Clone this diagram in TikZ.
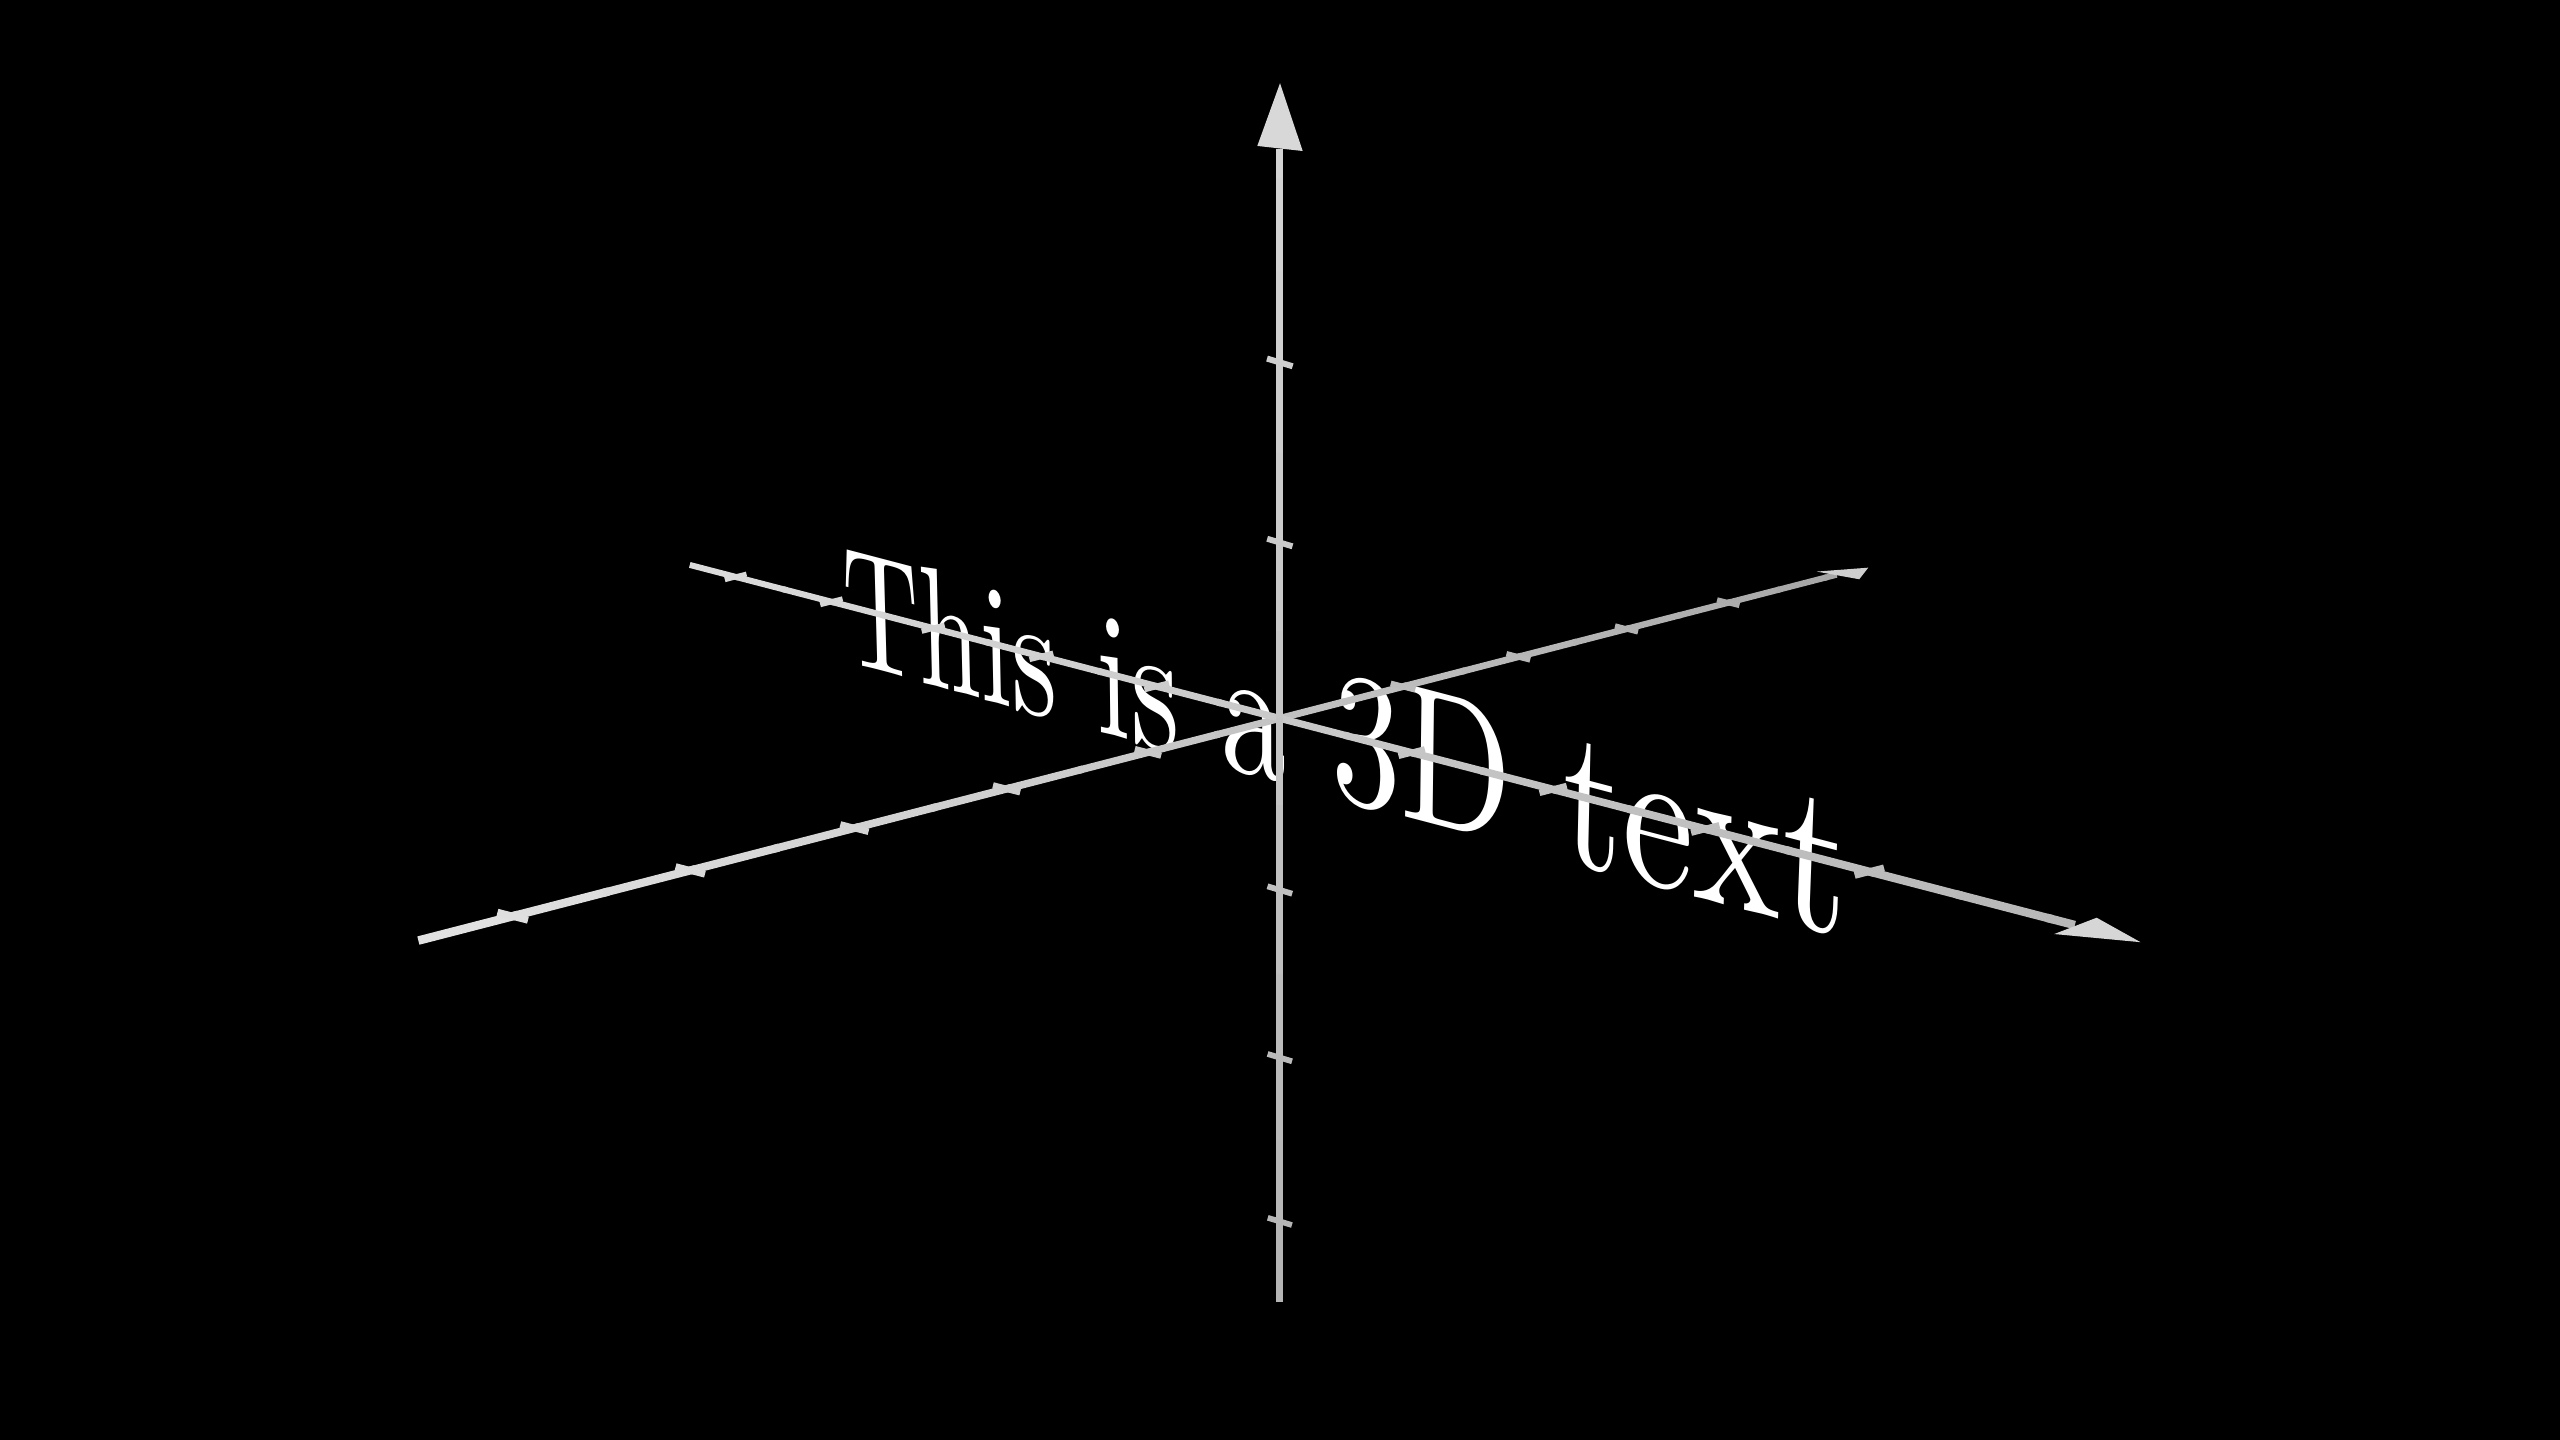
\documentclass[tikz,border=0pt]{standalone}
\begin{document}
\begin{tikzpicture}[x=1pt,y=1pt,line cap=butt]
\definecolor{xnear}{HTML}{E2E2E2}
\definecolor{xfar}{HTML}{A6A6A6}
\definecolor{yfar}{HTML}{DCDCDC}
\definecolor{ynear}{HTML}{B8B8B8}
\definecolor{ztop}{HTML}{D4D4D4}
\definecolor{zbot}{HTML}{B4B4B4}
\definecolor{tipx}{HTML}{CFCFCF}
\definecolor{tipy}{HTML}{D6D6D6}
\definecolor{tipz}{HTML}{D8D8D8}
\tikzset{letter/.style={transform shape,anchor=base west,inner sep=0pt,outer sep=0pt,text=white,font=\fontsize{10}{12}\selectfont}}
\fill[black] (-783.9,-442) rectangle (784.1,440);
\useasboundingbox (-783.9,-442) rectangle (784.1,440);
% ---- perspective text in the plane of the Y and Z axes
\foreach \qch/\quo/\qcw [count=\k] in {T/0/0.7222, h/0.7222/0.5556, i/1.2778/0.2778, s/1.5556/0.3944, i/2.2833/0.2778, s/2.5611/0.3944, a/3.2888/0.5, 3/4.1221/0.5, D/4.6221/0.7639, t/5.7193/0.3889, e/6.1082/0.4444, x/6.5526/0.5278, t/7.0804/0.3889}{
  \pgfmathsetmacro\qul{(\quo-3.7347)*1.04}
  \pgfmathsetmacro\quc{(\quo+\qcw/2-3.7347)*1.04}
  \pgfmathsetmacro\qvb{-0.37}
  \pgfmathsetmacro\qvc{-0.37+0.3*1.07}
  \pgfmathsetmacro\qwa{1-0.034*\qul-0.012*\qvb}
  \pgfmathsetmacro\qAx{78*\qul/\qwa}
  \pgfmathsetmacro\qAy{(-20.28*\qul+106.4*\qvb)/\qwa}
  \pgfmathsetmacro\qwc{1-0.034*\quc-0.012*\qvc}
  \pgfmathsetmacro\qNx{78*\quc}
  \pgfmathsetmacro\qNy{-20.28*\quc+106.4*\qvc}
  \pgfmathsetmacro\qma{(78*\qwc+0.034*\qNx)/(\qwc*\qwc)*0.104}
  \pgfmathsetmacro\qmb{(-20.28*\qwc+0.034*\qNy)/(\qwc*\qwc)*0.104}
  \pgfmathsetmacro\qmc{(0.012*\qNx)/(\qwc*\qwc)*0.107}
  \pgfmathsetmacro\qmd{(106.4*\qwc+0.012*\qNy)/(\qwc*\qwc)*0.107}
  \begin{scope}[shift={(\qAx,\qAy)},cm={\qma,\qmb,\qmc,\qmd,(0,0)}]
    \node[letter] (c\k) at (0,0) {\qch};
  \end{scope}
}
% ---- X axis (lower left to upper right)
\foreach \i in {0,...,21}{
  \pgfmathsetmacro\qta{-5.5+0.5*\i}
  \pgfmathsetmacro\qtb{min(\qta+0.53,5.136)}
  \pgfmathsetmacro\qtm{(\qta+\qtb)/2}
  \pgfmathsetmacro\qpc{(\qtm+5.5)/10.636*100}
  \pgfmathsetmacro\qlw{4.3/(1+0.034*\qtm)}
  \draw[line width=\qlw pt,color=xfar!\qpc!xnear] ({78*\qta/(1+0.034*\qta)},{20.12*\qta/(1+0.034*\qta)}) -- ({78*\qtb/(1+0.034*\qtb)},{20.12*\qtb/(1+0.034*\qtb)});
}
\foreach \tk in {-5,-4,-3,-2,-1,1,2,3,4}{
  \pgfmathsetmacro\qs{1/(1+0.034*\tk)}
  \pgfmathsetmacro\qpx{78*\tk*\qs}
  \pgfmathsetmacro\qpy{20.12*\tk*\qs}
  \pgfmathsetmacro\qpc{(\tk+5.5)/10.636*100}
  \pgfmathsetmacro\qlw{3.6*\qs}
  \draw[line width=\qlw pt,color=xfar!\qpc!xnear] ({\qpx-7.75*\qs},{\qpy+2.0*\qs}) -- ({\qpx+7.75*\qs},{\qpy-2.0*\qs});
}
\fill[tipx] (328.8,89.9) -- (360.4,92.3) -- (354.9,85.2) -- cycle;
% ---- Y axis (upper left to lower right)
\foreach \i in {0,...,21}{
  \pgfmathsetmacro\qta{-5.5+0.5*\i}
  \pgfmathsetmacro\qtb{min(\qta+0.53,5.15)}
  \pgfmathsetmacro\qtm{(\qta+\qtb)/2}
  \pgfmathsetmacro\qpc{(\qtm+5.5)/10.65*100}
  \pgfmathsetmacro\qlw{4.3/(1-0.034*\qtm)}
  \draw[line width=\qlw pt,color=ynear!\qpc!yfar] ({78*\qta/(1-0.034*\qta)},{-20.28*\qta/(1-0.034*\qta)}) -- ({78*\qtb/(1-0.034*\qtb)},{-20.28*\qtb/(1-0.034*\qtb)});
}
\foreach \tk in {-5,-4,-3,-2,-1,1,2,3,4}{
  \pgfmathsetmacro\qs{1/(1-0.034*\tk)}
  \pgfmathsetmacro\qpx{78*\tk*\qs}
  \pgfmathsetmacro\qpy{-20.28*\tk*\qs}
  \pgfmathsetmacro\qpc{(\tk+5.5)/10.65*100}
  \pgfmathsetmacro\qlw{3.6*\qs}
  \draw[line width=\qlw pt,color=ynear!\qpc!yfar] ({\qpx-7.75*\qs},{\qpy-2.0*\qs}) -- ({\qpx+7.75*\qs},{\qpy+2.0*\qs});
}
\fill[tipy] (474.3,-132.1) -- (527.2,-137.1) -- (500.3,-122.1) -- cycle;
% ---- Z axis (vertical)
\foreach \i in {0,...,13}{
  \pgfmathsetmacro\qta{-3.5+0.5*\i}
  \pgfmathsetmacro\qtb{min(\qta+0.53,3.155)}
  \pgfmathsetmacro\qtm{(\qta+\qtb)/2}
  \pgfmathsetmacro\qpc{(\qtm+3.5)/6.655*100}
  \pgfmathsetmacro\qlw{4.3/(1-0.012*\qtm)}
  \draw[line width=\qlw pt,color=ztop!\qpc!zbot] (0,{106.4*\qta/(1-0.012*\qta)}) -- (0,{106.4*\qtb/(1-0.012*\qtb)});
}
\foreach \tk in {-3,-2,-1,1,2}{
  \pgfmathsetmacro\qs{1/(1-0.012*\tk)}
  \pgfmathsetmacro\qpy{106.4*\tk*\qs}
  \pgfmathsetmacro\qpc{(\tk+3.5)/6.655*100}
  \pgfmathsetmacro\qlw{3.6*\qs}
  \draw[line width=\qlw pt,color=ztop!\qpc!zbot] ({-7.66*\qs},{\qpy+2.3*\qs}) -- ({7.66*\qs},{\qpy-2.3*\qs});
}
\fill[tipz] (-13.8,350.6) -- (0.1,389) -- (14,347.5) -- cycle;
\end{tikzpicture}
\end{document}
